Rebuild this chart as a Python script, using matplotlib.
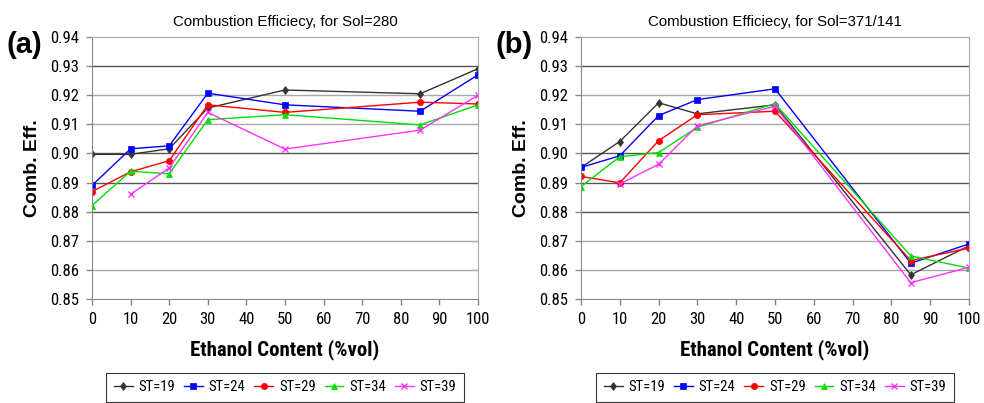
import matplotlib
matplotlib.use("Agg")
import matplotlib.pyplot as plt
import numpy as np

plt.rcParams['font.family'] = ['Liberation Sans', 'DejaVu Sans']
NARROW = ['Roboto Condensed', 'Liberation Sans', 'DejaVu Sans']

ethanol = [0, 10, 20, 30, 50, 85, 100]
series_labels = ["ST=19", "ST=24", "ST=29", "ST=34", "ST=39"]
colors = ["#333333", "#0000ff", "#ff0000", "#00e000", "#ff33ff"]
markers = ["d", "s", "o", "^", "x"]

# Panel (a): Sol=280
a_st19 = [0.8997, 0.8997, 0.9016, 0.9156, 0.9218, 0.9205, 0.9291]
a_st24 = [0.8890, 0.9016, 0.9026, 0.9207, 0.9167, 0.9145, 0.9270]
a_st29 = [0.8869, 0.8937, 0.8975, 0.9167, 0.9141, 0.9176, 0.9170]
a_st34 = [0.8821, 0.8939, 0.8930, 0.9116, 0.9133, 0.9098, 0.9167]
a_st39 = [np.nan, 0.8860, 0.8950, 0.9141, 0.9015, 0.9080, 0.9200]

# Panel (b): Sol=371/141
b_st19 = [0.8952, 0.9041, 0.9174, 0.9136, 0.9167, 0.8583, 0.8683]
b_st24 = [0.8952, 0.8992, 0.9130, 0.9185, 0.9222, 0.8623, 0.8689]
b_st29 = [0.8921, 0.8899, 0.9044, 0.9133, 0.9145, 0.8632, 0.8675]
b_st34 = [0.8886, 0.8989, 0.9003, 0.9090, 0.9171, 0.8648, 0.8606]
b_st39 = [np.nan, 0.8895, 0.8963, 0.9095, 0.9162, 0.8556, 0.8609]

titles = ["Combustion Efficiecy, for Sol=280", "Combustion Efficiecy, for Sol=371/141"]
panel_tags = ["(a)", "(b)"]
y_ticks = [0.85, 0.86, 0.87, 0.88, 0.89, 0.90, 0.91, 0.92, 0.93, 0.94]
x_ticks = list(range(0, 101, 10))

fig = plt.figure(figsize=(9.84, 4.03), dpi=100)
W, H = 984, 403
boxes = [(92, 478), (581, 969)]
top_px, bot_px = 37, 299

data = [[a_st19, a_st24, a_st29, a_st34, a_st39],
        [b_st19, b_st24, b_st29, b_st34, b_st39]]

dark_grid = {0.93, 0.90, 0.89, 0.88}

for i, (l, r) in enumerate(boxes):
    ax = fig.add_axes([l / W, 1 - bot_px / H, (r - l) / W, (bot_px - top_px) / H])
    for yv in y_ticks[1:-1]:
        c = "#555555" if round(yv, 2) in dark_grid else "#a8a8a8"
        ax.axhline(yv, color=c, lw=1.0, zorder=0)
    for vals, lab, c, m in zip(data[i], series_labels, colors, markers):
        ax.plot(ethanol, vals, color=c, marker=m, markersize=4.5, lw=1.0,
                label=lab, markeredgewidth=1.0 if m == "x" else 0.5)
    ax.set_xlim(0, 100)
    ax.set_ylim(0.85, 0.94)
    ax.set_xticks(x_ticks)
    ax.set_yticks(y_ticks)
    ax.set_yticklabels([f"{v:.2f}" for v in y_ticks])
    ax.tick_params(axis='both', length=4, color="#888888", width=1)
    ax.tick_params(axis='x', pad=5)
    ax.tick_params(axis='y', pad=5.5)
    for t in ax.get_xticklabels() + ax.get_yticklabels():
        t.set_fontfamily(NARROW)
        t.set_fontsize(12)
    for s in ["top", "right"]:
        ax.spines[s].set_color("#a8a8a8")
    for s in ["left", "bottom"]:
        ax.spines[s].set_color("#888888")
    ax.set_title(titles[i], fontsize=10.8, pad=8)
    ax.set_xlabel("Ethanol Content (%vol)", fontsize=15, fontweight='bold',
                  family=NARROW, labelpad=9)
    ax.set_ylabel("Comb. Eff.", fontsize=14, fontweight='bold', labelpad=6)
    fig.text((l - 85) / W, 1 - 45 / H, panel_tags[i], fontsize=21, fontweight='bold',
             ha='left', va='center')
    leg = ax.legend(loc='upper center', bbox_to_anchor=(0.5, -(373 - bot_px) / (bot_px - top_px)),
                    ncol=5, prop={'family': NARROW, 'size': 10.5}, frameon=True,
                    fancybox=False, edgecolor="black", borderaxespad=0,
                    handlelength=1.3, handletextpad=0.4, columnspacing=0.6, borderpad=0.5)
    leg.get_frame().set_linewidth(0.8)

fig.savefig("out.png", dpi=100, facecolor="white")
